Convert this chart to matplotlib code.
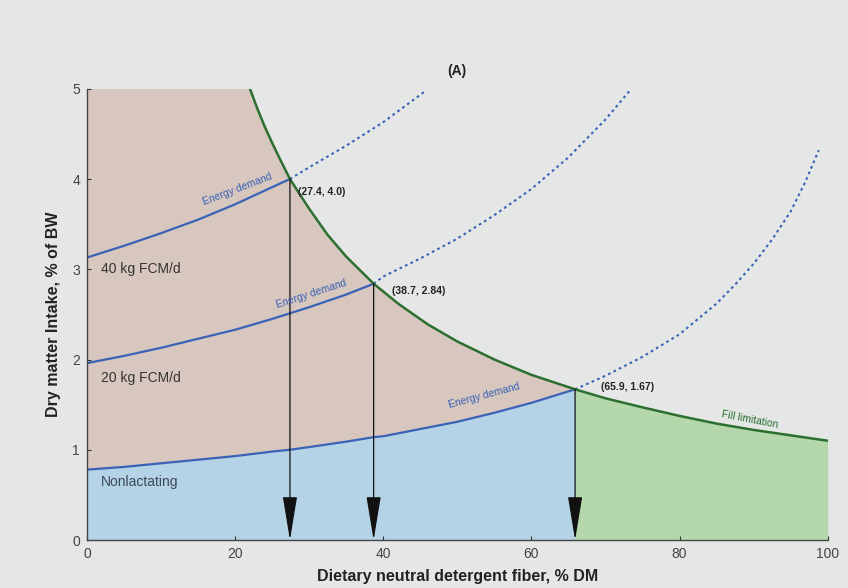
import matplotlib.pyplot as plt

plt.rcParams['font.family'] = ['Liberation Sans', 'DejaVu Sans']

# fill limitation curve (% of BW)
fill_ndf = [22, 22.5, 23, 23.5, 24, 25, 26, 27.4, 28.5, 30, 32.5, 35, 38.7, 42, 46, 50,
            55, 60, 65.9, 70, 75, 80, 85, 90, 95, 100]
fill_dmi = [5.0, 4.89, 4.78, 4.68, 4.58, 4.40, 4.23, 4.0, 3.86, 3.67, 3.38, 3.14, 2.84,
            2.62, 2.39, 2.20, 2.00, 1.83, 1.67, 1.57, 1.47, 1.375, 1.29, 1.22, 1.16, 1.10]

# energy demand curves: solid part (up to fill line) and dotted extension
non_ndf = [0, 5, 10, 15, 20, 25, 27.4, 30, 35, 38.7, 40, 45, 50, 55, 60, 65.9]
non_dmi = [0.78, 0.81, 0.85, 0.89, 0.93, 0.98, 1.00, 1.03, 1.09, 1.14, 1.15, 1.23,
           1.31, 1.41, 1.52, 1.67]
non_ext_ndf = [65.9, 70, 75, 80, 85, 87.5, 90, 92.5, 95, 97, 98.8]
non_ext_dmi = [1.67, 1.82, 2.03, 2.28, 2.62, 2.83, 3.06, 3.33, 3.64, 3.97, 4.32]

k20_ndf = [0, 5, 10, 15, 20, 25, 30, 35, 38.7]
k20_dmi = [1.96, 2.04, 2.13, 2.23, 2.33, 2.45, 2.58, 2.72, 2.84]
k20_ext_ndf = [38.7, 40, 45, 50, 55, 60, 65, 70, 73.5]
k20_ext_dmi = [2.84, 2.92, 3.12, 3.34, 3.60, 3.89, 4.24, 4.66, 5.0]

k40_ndf = [0, 5, 10, 15, 20, 25, 27.4]
k40_dmi = [3.13, 3.26, 3.40, 3.55, 3.72, 3.91, 4.0]
k40_ext_ndf = [27.4, 30, 35, 40, 45.6]
k40_ext_dmi = [4.0, 4.13, 4.37, 4.63, 4.97]

# intersections (optimum NDF, DMI)
opt_ndf = [27.4, 38.7, 65.9]
opt_dmi = [4.0, 2.84, 1.67]
opt_labels = ['(27.4, 4.0)', '(38.7, 2.84)', '(65.9, 1.67)']

bg = '#e5e7e7'
tan = '#d7c7bf'
blue_fill = '#b5d3e6'
green_fill = '#b4d8ab'
line_blue = '#3a62b6'
line_green = '#2c6f2e'

fig = plt.figure(figsize=(8.48, 5.88), dpi=100, facecolor=bg)
ax = fig.add_axes([0.1026, 0.0816, 0.8734, 0.7674])
ax.set_facecolor(bg)

# tan region: from nonlactating curve up to min(5, fill) for x in 0..65.9
n_top = fill_ndf.index(65.9) + 1
top_x = [0] + fill_ndf[:n_top]
top_y = [5.0] + fill_dmi[:n_top]
ax.fill(top_x + non_ndf[::-1], top_y + non_dmi[::-1], color=tan, lw=0)
ax.fill_between(non_ndf, 0, non_dmi, color=blue_fill, lw=0)
ax.fill_between(fill_ndf[n_top - 1:], 0, fill_dmi[n_top - 1:], color=green_fill, lw=0)

# energy demand curves
for xs, ys in [(non_ndf, non_dmi), (k20_ndf, k20_dmi), (k40_ndf, k40_dmi)]:
    ax.plot(xs, ys, color=line_blue, lw=1.6)
for xs, ys in [(non_ext_ndf, non_ext_dmi), (k20_ext_ndf, k20_ext_dmi),
               (k40_ext_ndf, k40_ext_dmi)]:
    ax.plot(xs, ys, color=line_blue, lw=1.5, ls=(0, (1.3, 1.6)))

# fill limitation curve
ax.plot(fill_ndf, fill_dmi, color=line_green, lw=1.8)

# arrows down to x axis
for xv, yv in zip(opt_ndf, opt_dmi):
    ax.annotate('', xy=(xv, 0), xytext=(xv, yv),
                arrowprops=dict(arrowstyle='-|>,head_length=2.3,head_width=0.38',
                                color='#111111', lw=0.9, mutation_scale=12,
                                shrinkA=0, shrinkB=0))

for (xv, yv), lab, dx, dy in zip(zip(opt_ndf, opt_dmi), opt_labels,
                                 [1.1, 2.5, 3.5], [-0.14, -0.08, 0.03]):
    ax.text(xv + dx, yv + dy, lab, fontsize=7.5, fontweight='bold',
            color='#222222', va='center', ha='left')

# curve labels
ax.text(1.9, 3.0, '40 kg FCM/d', fontsize=10, color='#333333', va='center')
ax.text(1.9, 1.80, '20 kg FCM/d', fontsize=10, color='#333333', va='center')
ax.text(1.9, 0.64, 'Nonlactating', fontsize=10, color='#3d4a55', va='center')

ax.text(20.3, 3.89, 'Energy demand', fontsize=7.5, color=line_blue, rotation=21,
        ha='center', va='center')
ax.text(30.3, 2.73, 'Energy demand', fontsize=7.5, color=line_blue, rotation=18,
        ha='center', va='center')
ax.text(53.6, 1.60, 'Energy demand', fontsize=7.5, color=line_blue, rotation=15,
        ha='center', va='center')
ax.text(89.5, 1.33, 'Fill limitation', fontsize=7.5, color=line_green, rotation=-11,
        ha='center', va='center')

ax.text(50, 5.2, '(A)', fontsize=10, fontweight='bold', ha='center', va='center',
        color='#222222')

ax.set_xlim(0, 100)
ax.set_ylim(0, 5)
ax.set_xticks([0, 20, 40, 60, 80, 100])
ax.set_yticks([0, 1, 2, 3, 4, 5])
ax.tick_params(direction='in', length=3, labelsize=10, colors='#333333',
               labelcolor='#444444')
ax.tick_params(axis='x', pad=5)
ax.tick_params(axis='y', pad=5)
for s in ['top', 'right']:
    ax.spines[s].set_visible(False)
for s in ['left', 'bottom']:
    ax.spines[s].set_color('#444444')
    ax.spines[s].set_linewidth(1.0)

ax.set_xlabel('Dietary neutral detergent fiber, % DM', fontsize=11.5,
              fontweight='bold', color='#222222', labelpad=6)
ax.set_ylabel('Dry matter Intake, % of BW', fontsize=11.5, fontweight='bold',
              color='#222222', labelpad=8)

fig.savefig('out.png', dpi=100, facecolor=bg)
